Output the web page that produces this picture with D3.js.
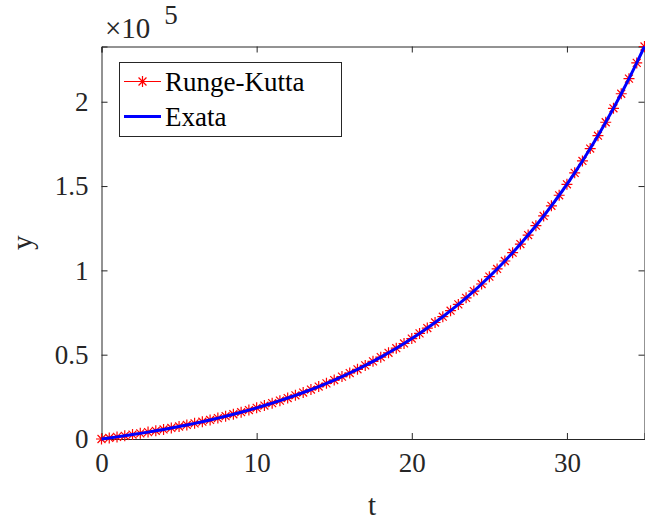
<!DOCTYPE html>
<html><head><meta charset="utf-8">
<script src="https://cdn.jsdelivr.net/npm/d3@7"></script>
<style>body{margin:0;background:#fff}svg{display:block}text{font-family:"Liberation Serif",serif}</style>
</head><body>
<script>
// t values (step 0.5 from 0 to 35)
const tValues = [0,0.5,1,1.5,2,2.5,3,3.5,4,4.5,5,5.5,6,6.5,7,7.5,8,8.5,9,9.5,10,10.5,11,11.5,12,12.5,13,13.5,14,14.5,15,15.5,16,16.5,17,17.5,18,18.5,19,19.5,20,20.5,21,21.5,22,22.5,23,23.5,24,24.5,25,25.5,26,26.5,27,27.5,28,28.5,29,29.5,30,30.5,31,31.5,32,32.5,33,33.5,34,34.5,35];
// Runge-Kutta values
const rkValues = [0,615,1255,1921,2615,3337,4088,4870,5683,6530,7412,8329,9284,10278,11313,12389,13510,14676,15890,17154,18469,19838,21262,22745,24288,25894,27566,29306,31117,33002,34964,37006,39131,41343,43646,46042,48536,51132,53833,56645,59572,62618,65789,69089,72523,76098,79819,83691,87722,91917,96283,100827,105557,110480,115604,120937,126487,132265,138277,144536,151049,157829,164885,172229,179873,187829,196109,204727,213698,223034,232751];
// Exact solution values (visually coincide)
const exactValues = [0,615,1255,1921,2615,3337,4088,4870,5683,6530,7412,8329,9284,10278,11313,12389,13510,14676,15890,17154,18469,19838,21262,22745,24288,25894,27566,29306,31117,33002,34964,37006,39131,41343,43646,46042,48536,51132,53833,56645,59572,62618,65789,69089,72523,76098,79819,83691,87722,91917,96283,100827,105557,110480,115604,120937,126487,132265,138277,144536,151049,157829,164885,172229,179873,187829,196109,204727,213698,223034,232751];
const xTicks = [0,10,20,30];
const yTicks = [0,50000,100000,150000,200000];
const yTickLabels = ["0","0.5","1","1.5","2"];
const seriesNames = ["Runge-Kutta","Exata"];

const W = 645, H = 521;
const m = {left:101.5, right:644.5, top:46.5, bottom:439};
const font = "Liberation Serif";
const axisColor = "#262626";

const svg = d3.select("body").append("svg").attr("width",W).attr("height",H);
const x = d3.scaleLinear().domain([0,35]).range([m.left,m.right]);
const y = d3.scaleLinear().domain([0,d3.max(rkValues)]).range([m.bottom,m.top]);

svg.append("clipPath").attr("id","clip").append("rect")
  .attr("x",m.left-7).attr("y",m.top-7).attr("width",m.right-m.left+14).attr("height",m.bottom-m.top+14);

// axes (ticks inward)
const tickLen = 6;
const gx = svg.append("g").attr("transform",`translate(0,${m.bottom})`)
  .call(d3.axisBottom(x).tickValues(xTicks).tickSize(-tickLen).tickPadding(14).tickFormat(d3.format("d")));
const gxt = svg.append("g").attr("transform",`translate(0,${m.top})`)
  .call(d3.axisTop(x).tickValues(xTicks).tickSize(-tickLen).tickFormat(""));
const gy = svg.append("g").attr("transform",`translate(${m.left},0)`)
  .call(d3.axisLeft(y).tickValues(yTicks).tickSize(-tickLen).tickPadding(13).tickFormat((d,i)=>yTickLabels[i]));
const gyr = svg.append("g").attr("transform",`translate(${m.right},0)`)
  .call(d3.axisRight(y).tickValues(yTicks).tickSize(-tickLen).tickFormat(""));
[gx,gxt,gy,gyr].forEach(g=>{
  g.attr("font-family",font).attr("font-size",27);
  g.select(".domain").attr("stroke",axisColor).attr("stroke-width",1);
  g.selectAll(".tick line").attr("stroke",axisColor).attr("stroke-width",1);
  g.selectAll("text").attr("fill",axisColor);
});
gx.selectAll(".tick").filter(d=>d===0).select("line").remove();
gy.selectAll(".tick").filter(d=>d===0).select("line").remove();

// axis labels
svg.append("text").attr("x",(m.left+m.right)/2 - 1).attr("y",515).attr("text-anchor","middle")
  .attr("font-family",font).attr("font-size",29).attr("fill",axisColor).text("t");
svg.append("text").attr("transform",`translate(32,${(m.top+m.bottom)/2}) rotate(-90)`).attr("text-anchor","middle")
  .attr("font-family",font).attr("font-size",29).attr("fill",axisColor).text("y");

// exponent
const ex = svg.append("text").attr("x",105).attr("y",38).attr("font-family",font).attr("fill",axisColor);
ex.append("tspan").attr("font-size",29).text("\u00d710");
ex.append("tspan").attr("dx",14).attr("dy",-14).attr("font-size",27).text("5");

const pts = tValues.map((t,i)=>({t, rk:rkValues[i], ex:exactValues[i]}));
const plot = svg.append("g").attr("clip-path","url(#clip)");

// Runge-Kutta line + asterisks
plot.append("path").datum(pts).attr("fill","none").attr("stroke","#ff0000").attr("stroke-width",1)
  .attr("d",d3.line().x(d=>x(d.t)).y(d=>y(d.rk)));
const r = 5.5, rd = r*0.72;
const star = `M${-r},0L${r},0M0,${-r}L0,${r}M${-rd},${-rd}L${rd},${rd}M${-rd},${rd}L${rd},${-rd}`;
plot.selectAll(".mk").data(pts).enter().append("path").attr("class","mk")
  .attr("transform",d=>`translate(${x(d.t)},${y(d.rk)})`).attr("d",star)
  .attr("fill","none").attr("stroke","#ff0000").attr("stroke-width",1.2);

// Exact line
plot.append("path").datum(pts).attr("fill","none").attr("stroke","#0000ff").attr("stroke-width",3)
  .attr("d",d3.line().x(d=>x(d.t)).y(d=>y(d.ex)));

// Legend
const lg = svg.append("g");
lg.append("rect").attr("x",119.5).attr("y",62.5).attr("width",222).attr("height",74)
  .attr("fill","#fff").attr("stroke",axisColor).attr("stroke-width",1);
lg.append("line").attr("x1",124).attr("x2",161).attr("y1",81.5).attr("y2",81.5).attr("stroke","#ff0000").attr("stroke-width",1);
lg.append("path").attr("transform","translate(142.5,81.5)").attr("d",star).attr("fill","none").attr("stroke","#ff0000").attr("stroke-width",1.2);
lg.append("line").attr("x1",124).attr("x2",161).attr("y1",116.5).attr("y2",116.5).attr("stroke","#0000ff").attr("stroke-width",3);
lg.append("text").attr("x",165).attr("y",91).attr("font-family",font).attr("font-size",27).attr("fill","#000").text(seriesNames[0]);
lg.append("text").attr("x",165).attr("y",126).attr("font-family",font).attr("font-size",27).attr("fill","#000").text(seriesNames[1]);
</script>
</body></html>
